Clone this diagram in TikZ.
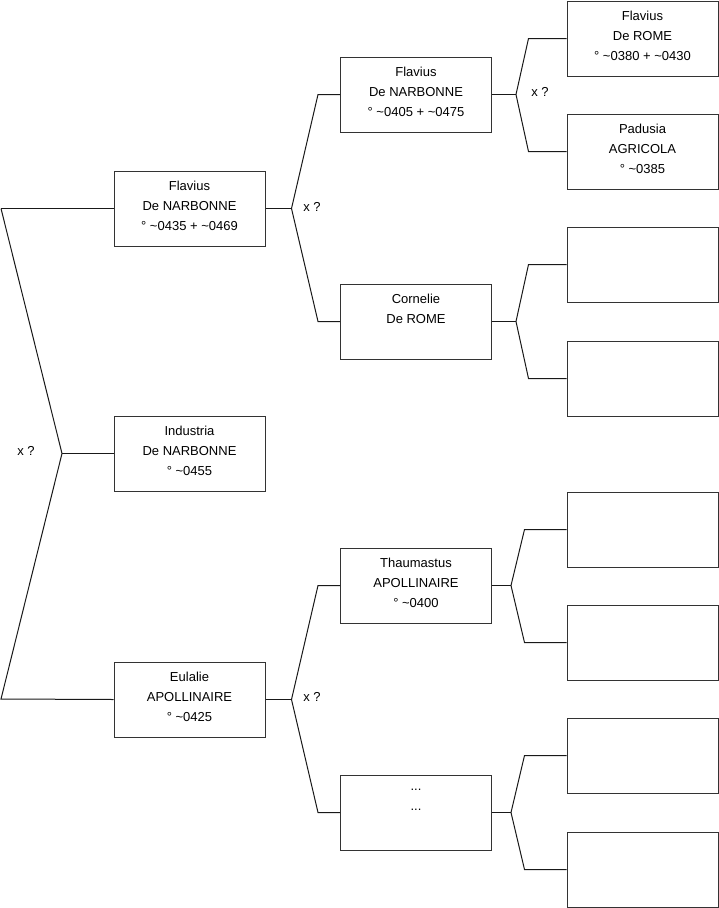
\documentclass[tikz,border=0pt]{standalone}
\usepackage{fontspec}
\setmainfont{Liberation Sans}
\usetikzlibrary{calc}
\newcommand{\tl}{\textasciitilde}
\tikzset{
  person/.style={draw=black!80, line width=1pt, minimum width=151pt, minimum height=75pt,
    inner sep=0pt, align=center, font=\fontsize{13}{20}\selectfont,
    text depth=5.5pt},
  conn/.style={line width=1pt, draw=black!90},
  lbl/.style={font=\fontsize{13}{14}\selectfont, inner sep=0pt}
}
\begin{document}
\begin{tikzpicture}[x=1pt,y=-1pt]
\useasboundingbox (0,0) rectangle (719,908);
% column 1
\node[person] (f1) at (189.5,208.5) {Flavius\\De NARBONNE\\° \tl0435 + \tl0469};
\node[person] (i1) at (189.5,453.5) {Industria\\De NARBONNE\\° \tl0455};
\node[person] (e1) at (189.5,699.5) {Eulalie\\APOLLINAIRE\\° \tl0425};
% column 2
\node[person] (f2) at (416,94.5) {Flavius\\De NARBONNE\\° \tl0405 + \tl0475};
\node[person] (c2) at (416,321.5) {Cornelie\\De ROME\\\mbox{}};
\node[person] (t2) at (416,585.5) {Thaumastus\\APOLLINAIRE\\° \tl0400};
\node[person] (d2) at (416,812.5) {...\\...\\\mbox{}};
% column 3
\node[person] (g1) at (642.5,38.5) {Flavius\\De ROME\\° \tl0380 + \tl0430};
\node[person] (g2) at (642.5,151.5) {Padusia\\AGRICOLA\\° \tl0385};
\node[person] (g3) at (642.5,264.5) {\mbox{}};
\node[person] (g4) at (642.5,378.5) {\mbox{}};
\node[person] (g5) at (642.5,529.5) {\mbox{}};
\node[person] (g6) at (642.5,642.5) {\mbox{}};
\node[person] (g7) at (642.5,755.5) {\mbox{}};
\node[person] (g8) at (642.5,869.5) {\mbox{}};
% level 1 connectors
\coordinate (r1) at (1,208.5);
\coordinate (r2) at (1,699);
\coordinate (j0) at (62,453.5);
\draw[conn] (r1) -- (f1.west);
\draw[conn] (r1) -- (j0) -- (r2) -- (e1.west);
\draw[conn] (j0) -- (i1.west);
\node[lbl] (x0) at (26,451) {x ?};
% level 2 connectors
\draw[conn] (f1.east) -- ++(26,0) coordinate (j1);
\draw[conn] (f2.west) -- ++(-22,0) -- (j1) -- ($(c2.west)+(-22,0)$) -- (c2.west);
\node[lbl] (x1) at (312,207) {x ?};
\draw[conn] (e1.east) -- ++(26,0) coordinate (j2);
\draw[conn] (t2.west) -- ++(-22,0) -- (j2) -- ($(d2.west)+(-22,0)$) -- (d2.west);
\node[lbl] (x2) at (312,697) {x ?};
% level 3 connectors
\draw[conn] (f2.east) -- ++(24,0) coordinate (j3);
\draw[conn] (g1.west) -- ++(-38,0) -- (j3) -- ($(g2.west)+(-38,0)$) -- (g2.west);
\node[lbl] (x3) at (540,92) {x ?};
\draw[conn] (c2.east) -- ++(24,0) coordinate (j4);
\draw[conn] (g3.west) -- ++(-38,0) -- (j4) -- ($(g4.west)+(-38,0)$) -- (g4.west);
\draw[conn] (t2.east) -- ++(19,0) coordinate (j5);
\draw[conn] (g5.west) -- ++(-42,0) -- (j5) -- ($(g6.west)+(-42,0)$) -- (g6.west);
\draw[conn] (d2.east) -- ++(19,0) coordinate (j6);
\draw[conn] (g7.west) -- ++(-42,0) -- (j6) -- ($(g8.west)+(-42,0)$) -- (g8.west);
\end{tikzpicture}
\end{document}
